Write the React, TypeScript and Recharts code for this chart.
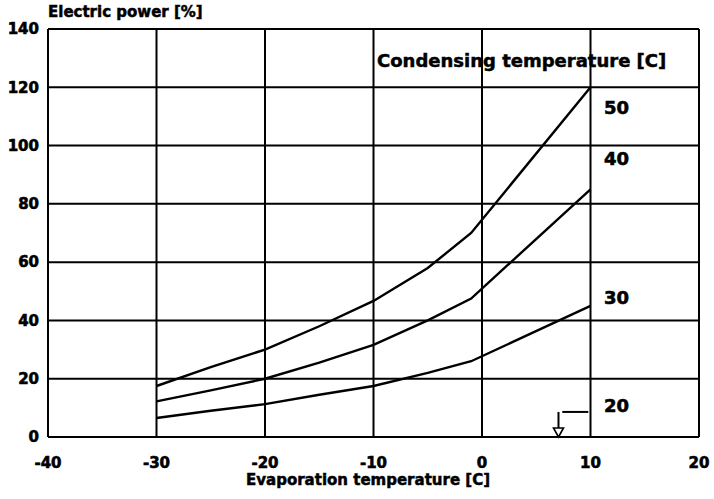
import { LineChart, Line, XAxis, YAxis, CartesianGrid, ReferenceLine, ReferenceDot } from "recharts";

const evapTemps = [-30, -25, -20, -15, -10, -5, -1, 10];
const power50 = [17.5, 24, 30, 38, 46.7, 58, 70, 120];
const power40 = [12.2, 16, 20, 25.5, 31.6, 40, 47.5, 85];
const power30 = [6.5, 9, 11.3, 14.5, 17.5, 22, 26, 45];

const xTicks = [-40, -30, -20, -10, 0, 10, 20];
const yTicks = [0, 20, 40, 60, 80, 100, 120, 140];

// curve labels (condensing temperature) placed right of x = 10
const curveLabels = ["50", "40", "30", "20"];
const curveLabelY = [112.9, 95.4, 48, 10.8];
const curveLabelX = 11.25;

// small marker next to the 20 label
const markerX = 7.05;
const markerTop = 8.6;
const markerBar = [7.4, 9.8];

const data = evapTemps.map((t, i) => ({
  t,
  c50: power50[i],
  c40: power40[i],
  c30: power30[i],
}));

const FONT = "'DejaVu Sans', sans-serif";
const tickStyle = {
  fill: "#000",
  stroke: "#000",
  strokeWidth: 0.6,
  fontSize: 15,
  fontWeight: 700,
  fontFamily: FONT,
};

const Arrow = (props: any) => {
  const { cx, cy } = props;
  if (cx == null || cy == null) return null;
  return (
    <path
      d={`M${cx - 5},${cy - 9} L${cx + 5},${cy - 9} L${cx},${cy} Z`}
      fill="#fff"
      stroke="#000"
      strokeWidth={1.6}
    />
  );
};

const makeLabel = (txt: string) => (props: any) => {
  const { cx, cy } = props;
  if (cx == null || cy == null) return null;
  return (
    <text
      x={cx}
      y={cy}
      dy="0.36em"
      fontSize={18}
      fontWeight={700}
      fontFamily={FONT}
      fill="#000"
      stroke="#000"
      strokeWidth={0.6}
    >
      {txt}
    </text>
  );
};

const titleStyle = {
  position: "absolute" as const,
  fontFamily: FONT,
  fontWeight: 700,
  whiteSpace: "nowrap" as const,
  WebkitTextStroke: "0.5px #000",
};

export default function App() {
  return (
    <div style={{ position: "absolute", left: 0, top: 0, width: 714, height: 499, background: "#fff" }}>
      <div style={{ ...titleStyle, left: 48, top: 3, fontSize: 15, lineHeight: "18px" }}>
        Electric power [%]
      </div>
      <div style={{ ...titleStyle, left: 377, top: 50, fontSize: 18, lineHeight: "22px" }}>
        Condensing temperature [C]
      </div>
      <div
        style={{
          ...titleStyle,
          left: 0,
          width: 736,
          top: 471,
          textAlign: "center",
          fontSize: 15,
          lineHeight: "18px",
        }}
      >
        Evaporation temperature [C]
      </div>
      <LineChart
        width={714}
        height={499}
        data={data}
        margin={{ top: 29, right: 15, bottom: 0, left: 0 }}
      >
        <CartesianGrid stroke="#000" strokeWidth={2} />
        <XAxis
          dataKey="t"
          type="number"
          domain={[-40, 20]}
          ticks={xTicks}
          tickLine={false}
          tickMargin={14}
          height={62}
          axisLine={{ stroke: "#000", strokeWidth: 2 }}
          tick={tickStyle}
          interval={0}
        />
        <YAxis
          type="number"
          domain={[0, 140]}
          ticks={yTicks}
          tickLine={false}
          tickMargin={3}
          width={48}
          axisLine={{ stroke: "#000", strokeWidth: 2 }}
          tick={tickStyle}
          interval={0}
        />
        <Line type="linear" dataKey="c50" stroke="#000" strokeWidth={2.4} dot={false} isAnimationActive={false} />
        <Line type="linear" dataKey="c40" stroke="#000" strokeWidth={2.4} dot={false} isAnimationActive={false} />
        <Line type="linear" dataKey="c30" stroke="#000" strokeWidth={2.4} dot={false} isAnimationActive={false} />
        <ReferenceLine
          segment={[{ x: markerX, y: markerTop }, { x: markerX, y: 3 }]}
          stroke="#000"
          strokeWidth={2}
        />
        <ReferenceLine
          segment={[{ x: markerBar[0], y: markerTop }, { x: markerBar[1], y: markerTop }]}
          stroke="#000"
          strokeWidth={2}
        />
        <ReferenceDot x={markerX} y={0} r={0} shape={Arrow} ifOverflow="visible" />
        {curveLabels.map((lab, i) => (
          <ReferenceDot
            key={lab}
            x={curveLabelX}
            y={curveLabelY[i]}
            r={0}
            shape={makeLabel(lab)}
            ifOverflow="visible"
          />
        ))}
      </LineChart>
    </div>
  );
}
